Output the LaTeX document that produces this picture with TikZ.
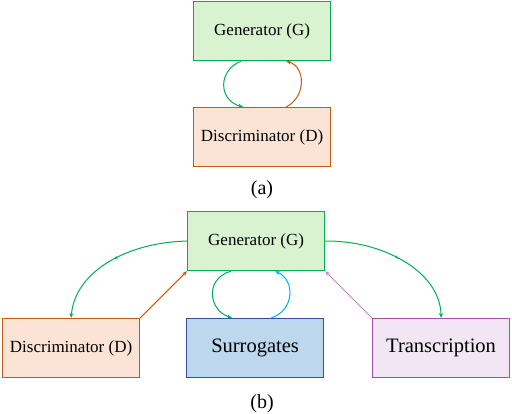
\documentclass[tikz,border=0pt]{standalone}
\usepackage{fontspec}
\setmainfont{Liberation Serif}
\usetikzlibrary{arrows.meta,decorations.markings}
\definecolor{gbord}{RGB}{0,176,80}
\definecolor{gfill}{RGB}{217,242,208}
\definecolor{dbord}{RGB}{197,90,17}
\definecolor{dfill}{RGB}{251,227,214}
\definecolor{sbord}{RGB}{47,85,151}
\definecolor{sfill}{RGB}{189,215,238}
\definecolor{tbord}{RGB}{160,80,160}
\definecolor{tfill}{RGB}{242,230,244}
\definecolor{blu}{RGB}{0,176,240}
\definecolor{pnk}{RGB}{208,128,208}
\tikzset{
 box/.style={draw, line width=1.2pt, minimum width=137pt, minimum height=59pt, inner sep=0pt, anchor=north west, font=\fontsize{17}{19}\selectfont},
 bigtxt/.style={font=\fontsize{20.5}{23}\selectfont},
 con/.style={line width=1pt, -{Stealth[length=5pt,width=4pt]}},
 midmark/.style={postaction={decorate}, decoration={markings, mark=at position 0.5 with {\arrow{Stealth[length=4pt,width=3pt]}}}},
 captxt/.style={font=\fontsize{20}{22}\selectfont}
}
\begin{document}
\begin{tikzpicture}[x=1pt,y=-1pt]
\useasboundingbox (0,0) rectangle (512,414);
% (a)
\node[box, draw=gbord, fill=gfill] (ga) at (193,1) {Generator (G)};
\node[box, draw=dbord, fill=dfill] (da) at (193,107) {Discriminator (D)};
\node[captxt] (capa) at (262,190) {(a)};
\draw[con, gbord] ([xshift=-21pt]ga.south) .. controls (218,70) and (218,100) .. ([xshift=-19pt]da.north);
\draw[con, dbord] ([xshift=24pt]da.north) .. controls (306,97) and (306,67) .. ([xshift=24pt]ga.south);
% (b)
\node[box, draw=gbord, fill=gfill] (gb) at (187,211) {Generator (G)};
\node[box, draw=dbord, fill=dfill] (db) at (2,318) {Discriminator (D)};
\node[box, draw=sbord, fill=sfill, bigtxt] (sb) at (186,318) {Surrogates};
\node[box, draw=tbord, fill=tfill, bigtxt] (tb) at (372,318) {Transcription};
\node[captxt] (capb) at (262,404) {(b)};
\draw[con, midmark, gbord] (gb.west) .. controls (130,242) and (75,270) .. (db.north);
\draw[con, dbord] (db.north east) -- (gb.south west);
\draw[con, gbord] ([xshift=-25pt]gb.south) .. controls (205,278) and (208,310) .. ([xshift=-23pt]sb.north);
\draw[con, blu] ([xshift=16pt]sb.north) .. controls (295,310) and (295,280) .. ([xshift=19pt]gb.south);
\draw[con, pnk] (tb.north west) -- (gb.south east);
\draw[con, midmark, gbord] (gb.east) .. controls (380,240) and (440,270) .. (tb.north);
\end{tikzpicture}
\end{document}
